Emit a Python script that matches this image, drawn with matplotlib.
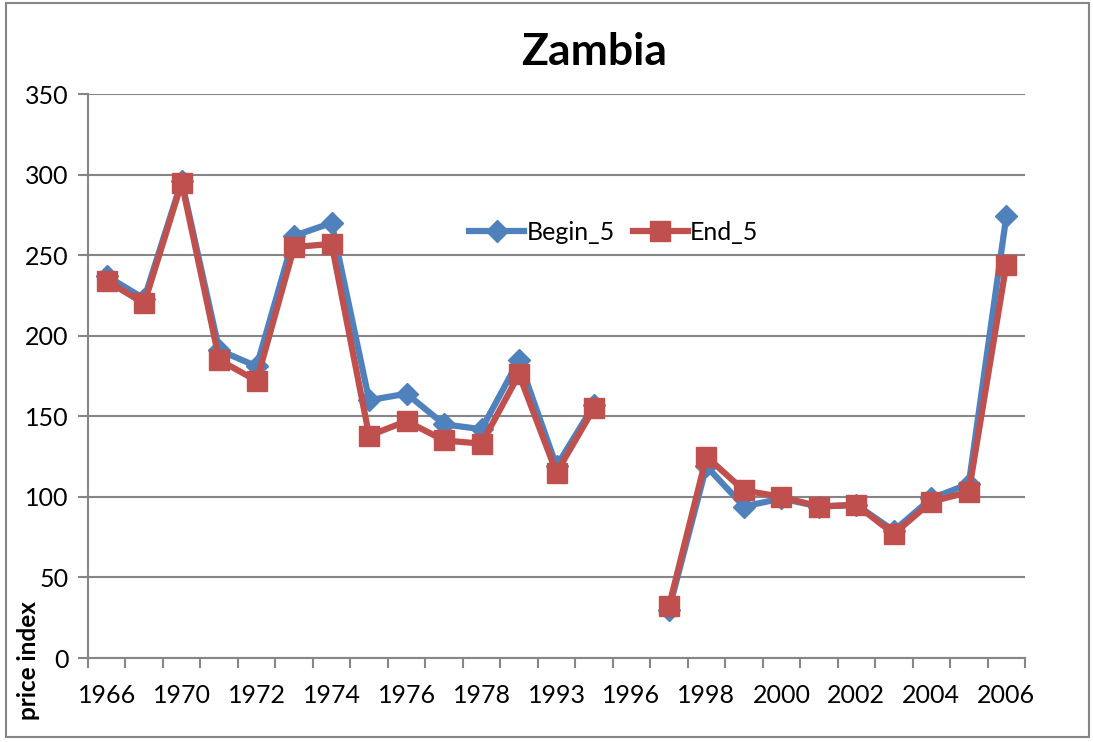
import numpy as np
import matplotlib.pyplot as plt
from matplotlib.lines import Line2D
from matplotlib.patches import Rectangle

years = ['1966', '1968', '1970', '1971', '1972', '1973', '1974', '1975', '1976',
         '1977', '1978', '1979', '1993', '1994', '1996', '1997', '1998', '1999',
         '2000', '2001', '2002', '2003', '2004', '2005', '2006']
begin_5 = [237, 223, 296, 191, 181, 262, 270, 160, 164, 145, 142, 185, 119, 157,
           np.nan, 30, 119, 94, 99, 94, 95, 79, 99, 108, 274]
end_5 = [234, 220, 295, 185, 172, 255, 257, 138, 147, 135, 133, 176, 115, 155,
         np.nan, 32, 125, 104, 100, 94, 95, 77, 97, 103, 244]

blue = '#4F81BD'
red = '#C0504D'
grey = '#868686'


def plotResult():
    plt.rcParams['font.family'] = ['Lato', 'DejaVu Sans']

    fig = plt.figure(figsize=(10.93, 7.42), dpi=100)
    ax = fig.add_axes([88 / 1093, 1 - 658 / 742, (1025 - 88) / 1093, (658 - 94) / 742])

    x = np.arange(len(years))
    ax.plot(x, begin_5, color=blue, lw=4.5, marker='D', ms=11, zorder=3)
    ax.plot(x, end_5, color=red, lw=4.5, marker='s', ms=14, zorder=4)

    ax.set_xlim(-0.5, len(years) - 0.5)
    ax.set_ylim(0, 350)
    ax.set_yticks(np.arange(0, 351, 50))
    ax.yaxis.grid(True, color=grey, lw=1.5)
    ax.set_axisbelow(True)

    ax.set_xticks(x[::2])
    ax.set_xticklabels(years[::2])
    ax.set_xticks(np.arange(-0.5, len(years)), minor=True)
    ax.tick_params(axis='x', which='major', length=0, pad=19, labelsize=18)
    ax.tick_params(axis='x', which='minor', length=7, width=1.5, color=grey)
    ax.tick_params(axis='y', length=7, width=1.5, color=grey, pad=7, labelsize=18)

    for s in ['top', 'right']:
        ax.spines[s].set_visible(False)
    for s in ['left', 'bottom']:
        ax.spines[s].set_color(grey)
        ax.spines[s].set_linewidth(1.5)

    handles = [Line2D([], [], color=blue, lw=4.5, marker='D', ms=11),
               Line2D([], [], color=red, lw=4.5, marker='s', ms=14)]
    fig.legend(handles, ['Begin_5', 'End_5'], loc='center', frameon=False,
               bbox_to_anchor=(614 / 1093, 1 - 232 / 742), ncol=2, fontsize=18,
               handlelength=2.2, handletextpad=0.1, columnspacing=0.7)

    fig.text(594 / 1093, 1 - 52 / 742, 'Zambia', ha='center', va='center',
             fontsize=32, fontweight='bold')
    fig.text(29 / 1093, 1 - 661 / 742, 'price index', rotation=90, ha='center',
             va='center', fontsize=17.5, fontweight='bold')

    fig.patches.append(Rectangle((6 / 1093, 1 - 737 / 742), 1083 / 1093, 734 / 742,
                                 transform=fig.transFigure, fill=False,
                                 edgecolor=grey, lw=1.5))

    plt.savefig('out.png')


if __name__ == '__main__':
    plotResult()
